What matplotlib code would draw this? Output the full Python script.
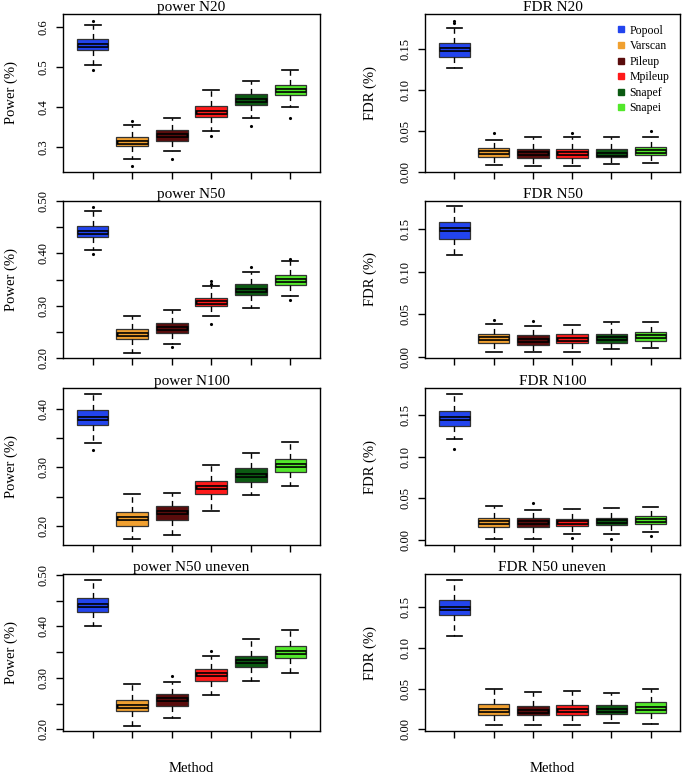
import numpy as np
import matplotlib
matplotlib.use('Agg')
import matplotlib.pyplot as plt
from matplotlib.lines import Line2D

plt.rcParams['font.family'] = ['Liberation Serif', 'DejaVu Serif']

methods = ['Popool', 'Varscan', 'Pileup', 'Mpileup', 'Snapef', 'Snapei']
colors = ['#2244ee', '#f0a030', '#5a0c0c', '#ff1a1a', '#0b5a12', '#52e82a']

# rows: lower whisker, q1, median, q3, upper whisker
power_n20 = [[0.506, 0.269, 0.289, 0.340, 0.373, 0.399],
             [0.542, 0.302, 0.315, 0.375, 0.404, 0.429],
             [0.554, 0.3125, 0.329, 0.3875, 0.418, 0.442],
             [0.571, 0.325, 0.342, 0.402, 0.432, 0.456],
             [0.606, 0.354, 0.372, 0.443, 0.466, 0.492]]
power_n20_out = [[0.615, 0.492], [0.365, 0.252], [0.271], [0.3275], [0.3525], [0.3725]]

fdr_n20 = [[0.127, 0.008, 0.0073, 0.0073, 0.0093, 0.011],
           [0.140, 0.0183, 0.0175, 0.0175, 0.018, 0.0211],
           [0.1496, 0.0244, 0.0232, 0.023, 0.0224, 0.0256],
           [0.1565, 0.0297, 0.0285, 0.0285, 0.028, 0.0305],
           [0.175, 0.0394, 0.0427, 0.0427, 0.042, 0.042]]
fdr_n20_out = [[0.184, 0.181], [0.048], [], [0.047], [], [0.050]]

power_n50 = [[0.4055, 0.2096, 0.2268, 0.2798, 0.2951, 0.318],
             [0.4317, 0.237, 0.2485, 0.299, 0.3213, 0.3404],
             [0.441, 0.246, 0.258, 0.3072, 0.3308, 0.350],
             [0.4527, 0.2562, 0.267, 0.3155, 0.341, 0.3595],
             [0.4814, 0.2804, 0.2925, 0.3378, 0.3646, 0.3857]]
power_n50_out = [[0.398, 0.489], [], [0.221], [0.3474, 0.3423, 0.2657], [0.373], [0.390, 0.3117]]

fdr_n50 = [[0.1195, 0.0066, 0.0059, 0.0066, 0.009, 0.011],
           [0.139, 0.0168, 0.0148, 0.016, 0.0168, 0.0195],
           [0.1496, 0.0223, 0.020, 0.0215, 0.0227, 0.0246],
           [0.158, 0.0277, 0.0258, 0.0266, 0.0273, 0.0293],
           [0.177, 0.0387, 0.036, 0.0375, 0.041, 0.041]]
fdr_n50_out = [[], [0.0441], [0.042], [], [], []]

power_n100 = [[0.342, 0.1778, 0.1847, 0.2256, 0.2528, 0.2676],
              [0.3727, 0.1994, 0.2102, 0.254, 0.2756, 0.2915],
              [0.3852, 0.2142, 0.2244, 0.267, 0.288, 0.3051],
              [0.398, 0.2239, 0.234, 0.2773, 0.2994, 0.3148],
              [0.426, 0.254, 0.2568, 0.305, 0.3256, 0.3432]]
power_n100_out = [[0.3307], [], [], [], [], []]

fdr_n100 = [[0.122, 0.0012, 0.0012, 0.0076, 0.0068, 0.010],
            [0.137, 0.016, 0.016, 0.0168, 0.018, 0.0192],
            [0.147, 0.022, 0.0212, 0.022, 0.0228, 0.024],
            [0.1556, 0.0268, 0.0268, 0.0252, 0.0268, 0.0284],
            [0.176, 0.0408, 0.036, 0.0376, 0.038, 0.040]]
fdr_n100_out = [[0.110], [], [0.044], [0.002], [0.0008], [0.0052]]

power_uneven = [[0.4006, 0.2071, 0.2214, 0.2667, 0.2939, 0.310],
                [0.4278, 0.2356, 0.246, 0.2945, 0.321, 0.3379],
                [0.4427, 0.2453, 0.2589, 0.3074, 0.3327, 0.3508],
                [0.4544, 0.2563, 0.268, 0.3172, 0.343, 0.3618],
                [0.490, 0.2874, 0.2926, 0.3424, 0.3748, 0.3922]]
power_uneven_out = [[], [], [0.3042], [0.3528], [], []]

fdr_uneven = [[0.1148, 0.0057, 0.0057, 0.0049, 0.0074, 0.007],
              [0.1406, 0.0172, 0.0172, 0.0176, 0.0184, 0.0205],
              [0.1488, 0.0238, 0.0225, 0.0238, 0.0238, 0.0266],
              [0.1594, 0.0311, 0.0291, 0.0303, 0.0303, 0.0332],
              [0.1836, 0.0496, 0.0455, 0.0467, 0.0443, 0.0496]]
fdr_uneven_out = [[], [], [], [], [], []]

panels = [
    ('power N20', power_n20, power_n20_out, 'Power (%)', (0.2375, 0.6325),
     [0.3, 0.4, 0.5, 0.6], [0.3, 0.4, 0.5, 0.6]),
    ('FDR N20', fdr_n20, fdr_n20_out, 'FDR (%)', (0.0, 0.1923),
     [0, 0.05, 0.10, 0.15], [0, 0.05, 0.10, 0.15]),
    ('power N50', power_n50, power_n50_out, 'Power (%)', (0.2, 0.5),
     [0.20, 0.25, 0.30, 0.35, 0.40, 0.45, 0.50], [0.20, 0.30, 0.40, 0.50]),
    ('FDR N50', fdr_n50, fdr_n50_out, 'FDR (%)', (-0.001, 0.183),
     [0, 0.05, 0.10, 0.15], [0, 0.05, 0.10, 0.15]),
    ('power N100', power_n100, power_n100_out, 'Power (%)', (0.1676, 0.4358),
     [0.20, 0.25, 0.30, 0.35, 0.40], [0.20, 0.30, 0.40]),
    ('FDR N100', fdr_n100, fdr_n100_out, 'FDR (%)', (-0.006, 0.183),
     [0, 0.05, 0.10, 0.15], [0, 0.05, 0.10, 0.15]),
    ('power N50 uneven', power_uneven, power_uneven_out, 'Power (%)', (0.1968, 0.502),
     [0.20, 0.25, 0.30, 0.35, 0.40, 0.45, 0.50], [0.20, 0.30, 0.40, 0.50]),
    ('FDR N50 uneven', fdr_uneven, fdr_uneven_out, 'FDR (%)', (-0.002, 0.191),
     [0, 0.05, 0.10, 0.15], [0, 0.05, 0.10, 0.15]),
]

W, H = 685, 779
fig = plt.figure(figsize=(W / 100, H / 100), dpi=100)

col_x = [(63, 320), (425, 680)]
row_y = [(14, 172), (201, 358), (388, 545), (574, 731)]
ylab_x = [11, 370]

pos = np.arange(1, 7)
for i, (title, st, outl, ylab, ylim, ticks, labeled) in enumerate(panels):
    r, c = divmod(i, 2)
    x0, x1 = col_x[c]
    y0, y1 = row_y[r]
    ax = fig.add_axes([x0 / W, 1 - y1 / H, (x1 - x0) / W, (y1 - y0) / H])

    stats = []
    for k in range(6):
        stats.append(dict(whislo=st[0][k], q1=st[1][k], med=st[2][k],
                          q3=st[3][k], whishi=st[4][k], fliers=outl[k]))
    bp = ax.bxp(stats, positions=pos, widths=0.8, patch_artist=True,
                boxprops=dict(edgecolor='#333333', linewidth=0.9),
                whiskerprops=dict(color='black', linestyle=(0, (4, 3)), linewidth=1),
                capprops=dict(color='black', linewidth=1.2),
                medianprops=dict(color='black', linewidth=3.4, solid_capstyle='butt'),
                flierprops=dict(marker='.', markersize=2.5, markerfacecolor='black',
                                markeredgecolor='black'))
    for patch, col in zip(bp['boxes'], colors):
        patch.set_facecolor(col)
    # thin coloured stripe through the median band
    ax.hlines(st[2], pos - 0.37, pos + 0.37, colors=colors, linewidth=1.0, zorder=5)

    ax.set_xlim(0.25, 6.75)
    ax.set_ylim(*ylim)
    ax.set_xticks(pos)
    ax.set_xticklabels([])
    ax.set_yticks(ticks)
    fmt = '%.1f' if r == 0 and c == 0 else '%.2f'
    ax.set_yticklabels([fmt % t if any(abs(t - l) < 1e-9 for l in labeled) else ''
                        for t in ticks], rotation=90, va='center', fontsize=9)
    ax.tick_params(direction='out', length=5, width=1, pad=5)
    for s in ax.spines.values():
        s.set_linewidth(1)
    ax.set_title(title, fontsize=11, pad=0.5)
    fig.text(ylab_x[c] / W, 1 - (y0 + y1) / 2 / H, ylab, rotation=90,
             ha='center', va='center', fontsize=10.5)

    if i == 1:
        handles = [Line2D([], [], marker='s', linestyle='', markersize=4.5,
                          markerfacecolor=col, markeredgecolor=col) for col in colors]
        ax.legend(handles, methods, loc='upper right', frameon=False, fontsize=8.5,
                  handlelength=0.6, handletextpad=0.4, labelspacing=0.3,
                  borderaxespad=0.5)

for c in range(2):
    x0, x1 = col_x[c]
    fig.text((x0 + x1) / 2 / W, 1 - 769 / H, 'Method', ha='center', va='center',
             fontsize=10.5)

fig.savefig('out.png', dpi=100)
